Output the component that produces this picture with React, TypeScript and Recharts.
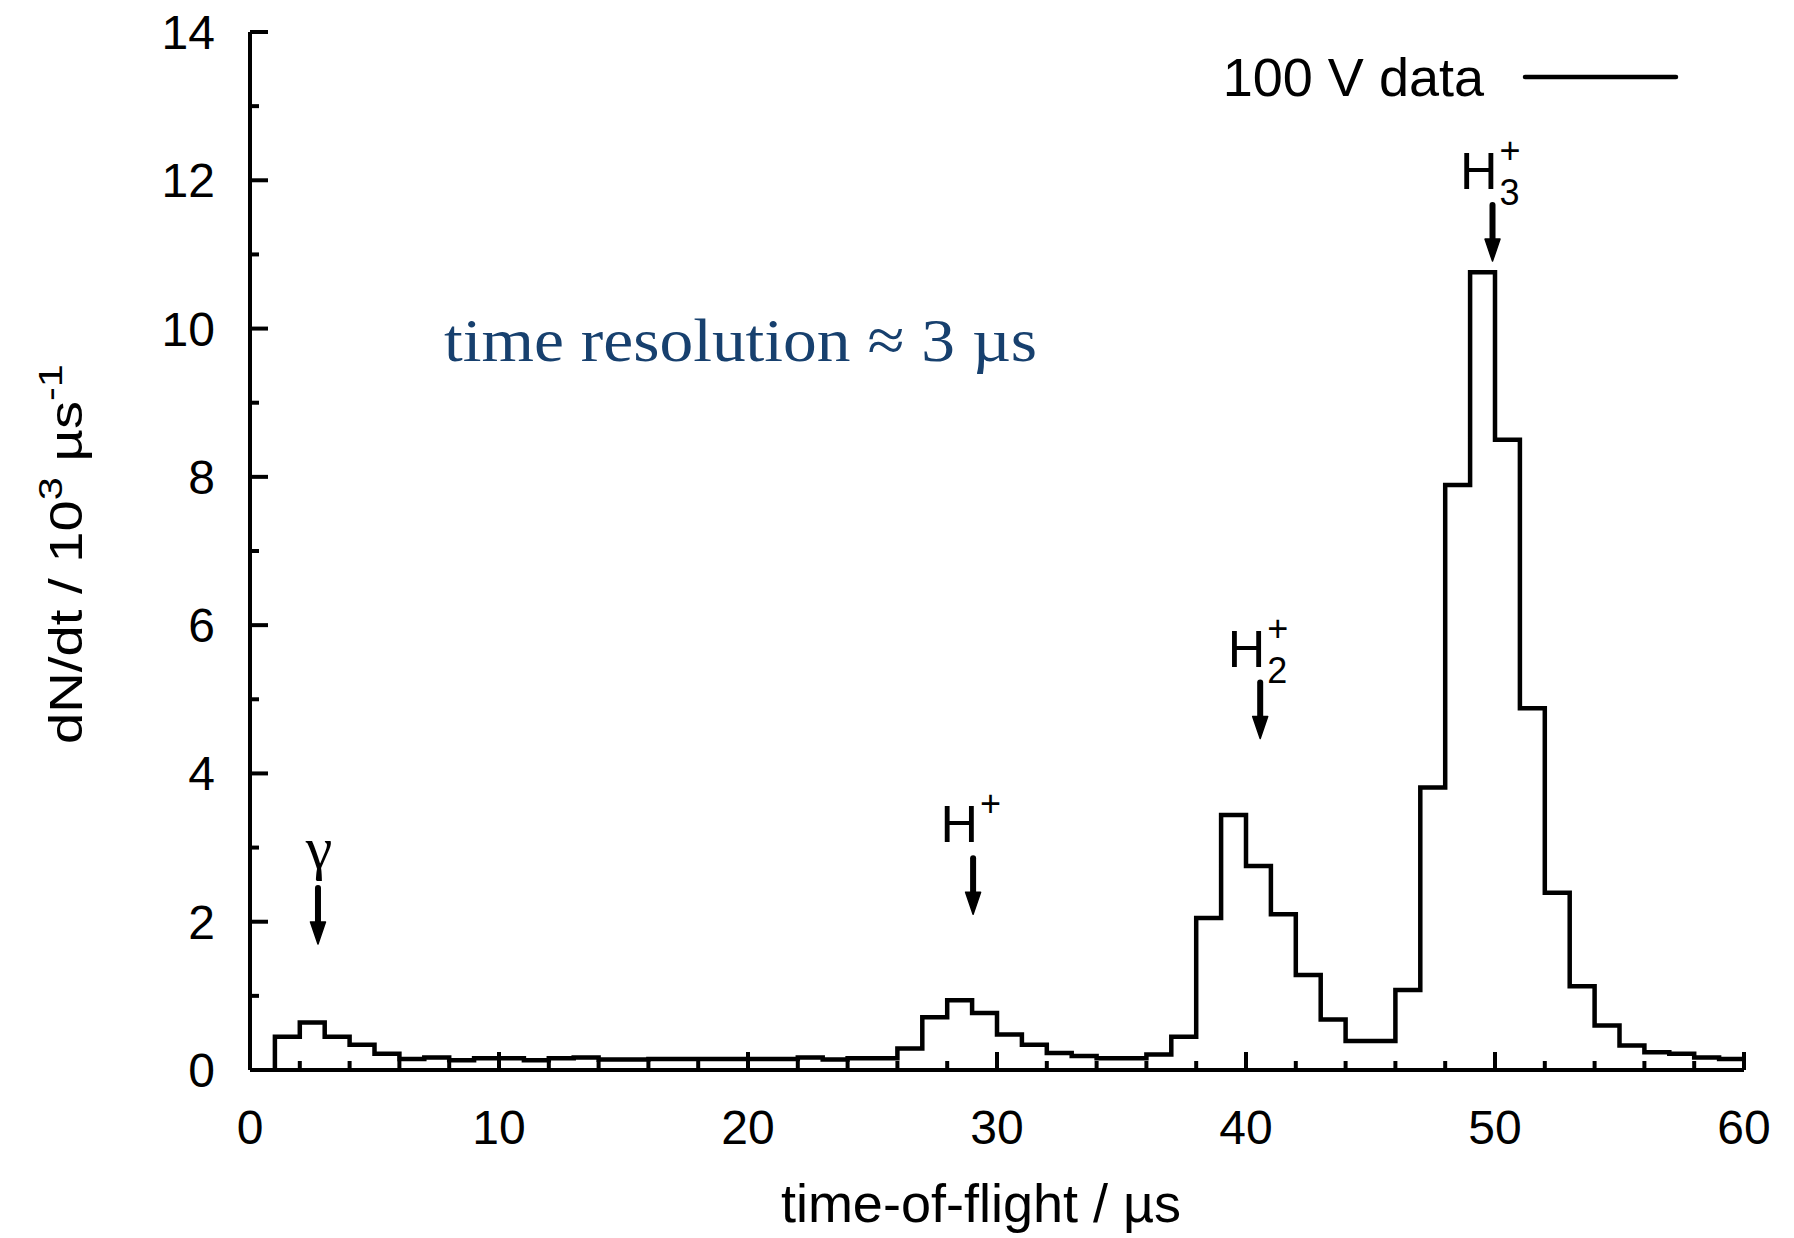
import React from 'react';
import { LineChart, Line, XAxis, YAxis, ReferenceDot } from 'recharts';

// histogram bins, 1 µs wide, left edges in µs
const binStarts = [
  1, 2, 3, 4, 5, 6, 7, 8, 9, 10,
  11, 12, 13, 14, 15, 16, 17, 18, 19, 20,
  21, 22, 23, 24, 25, 26, 27, 28, 29, 30,
  31, 32, 33, 34, 35, 36, 37, 38, 39, 40,
  41, 42, 43, 44, 45, 46, 47, 48, 49, 50,
  51, 52, 53, 54, 55, 56, 57, 58, 59,
];
const binEnd = 60;

// dN/dt in 10^3 / µs
const counts = [
  0.45, 0.64, 0.45, 0.34, 0.22, 0.15, 0.17, 0.13, 0.16, 0.16,
  0.13, 0.16, 0.17, 0.14, 0.14, 0.15, 0.15, 0.15, 0.15, 0.15,
  0.15, 0.17, 0.14, 0.16, 0.16, 0.29, 0.71, 0.94, 0.77, 0.48,
  0.34, 0.23, 0.19, 0.16, 0.16, 0.21, 0.45, 2.05, 3.44, 2.75,
  2.10, 1.28, 0.68, 0.39, 0.39, 1.08, 3.81, 7.89, 10.76, 8.50,
  4.88, 2.39, 1.13, 0.60, 0.33, 0.24, 0.22, 0.17, 0.15,
];

const xTicks = [0, 2, 4, 6, 8, 10, 12, 14, 16, 18, 20, 22, 24, 26, 28, 30, 32, 34, 36, 38, 40, 42, 44, 46, 48, 50, 52, 54, 56, 58, 60];
const xLabelTicks = [0, 10, 20, 30, 40, 50, 60];
const yTicks = [0, 1, 2, 3, 4, 5, 6, 7, 8, 9, 10, 11, 12, 13, 14];
const yLabelTicks = [0, 2, 4, 6, 8, 10, 12, 14];

// peak markers: arrow tip position in data coords
const peaks = [
  { name: 'gamma', t: 2.73, tip: 1.7, base: 'γ', sub: '', sup: '' },
  { name: 'H+', t: 29.04, tip: 2.1, base: 'H', sub: '', sup: '+' },
  { name: 'H2+', t: 40.57, tip: 4.47, base: 'H', sub: '2', sup: '+' },
  { name: 'H3+', t: 49.9, tip: 10.91, base: 'H', sub: '3', sup: '+' },
];

const data = [
  { t: binStarts[0], v: 0 },
  ...binStarts.map((t, i) => ({ t, v: counts[i] })),
  { t: binEnd, v: counts[counts.length - 1] },
];

const SANS = '"Liberation Sans", Arial, Helvetica, sans-serif';
const SERIF = '"Liberation Serif", "Times New Roman", serif';
const W = 1794;
const H = 1238;
const AXIS_W = 4;

const BottomTick = (props: any) => {
  const { x, y, payload } = props;
  const major = xLabelTicks.includes(payload.value);
  return (
    <g>
      <line x1={x} x2={x} y1={y} y2={y - (major ? 18 : 9)} stroke="#000" strokeWidth={AXIS_W} />
      {major && (
        <text x={x} y={y + 74} textAnchor="middle" fontFamily={SANS} fontSize={48} fill="#000">
          {payload.value}
        </text>
      )}
    </g>
  );
};

const TopTick = (props: any) => {
  const { x, y, payload } = props;
  const major = xLabelTicks.includes(payload.value);
  return <line x1={x} x2={x} y1={y} y2={y + (major ? 18 : 9)} stroke="#000" strokeWidth={AXIS_W} />;
};

const LeftTick = (props: any) => {
  const { x, y, payload } = props;
  const major = yLabelTicks.includes(payload.value);
  return (
    <g>
      <line x1={x} x2={x + (major ? 18 : 9)} y1={y} y2={y} stroke="#000" strokeWidth={AXIS_W} />
      {major && (
        <text x={x - 35} y={y + 17} textAnchor="end" fontFamily={SANS} fontSize={48} fill="#000">
          {payload.value}
        </text>
      )}
    </g>
  );
};

const RightTick = (props: any) => {
  const { x, y, payload } = props;
  const major = yLabelTicks.includes(payload.value);
  return <line x1={x} x2={x - (major ? 18 : 9)} y1={y} y2={y} stroke="#000" strokeWidth={AXIS_W} />;
};

const ARROW_LEN = 56;

const PeakMarker = (p: any) => (props: any) => {
  const { cx, cy } = props;
  const top = cy - ARROW_LEN;
  const baseY = top - 18;
  return (
    <g>
      <line x1={cx} x2={cx} y1={top} y2={cy - 18} stroke="#000" strokeWidth={6} strokeLinecap="round" />
      <polygon points={`${cx - 7.5},${cy - 22} ${cx + 7.5},${cy - 22} ${cx},${cy}`} fill="#000" stroke="#000" strokeWidth={1.5} strokeLinejoin="round" />
      {p.base === 'γ' ? (
        <text x={cx + 1} y={baseY - 2} textAnchor="middle" fontFamily={SERIF} fontSize={60} fill="#000">
          {p.base}
        </text>
      ) : (
        <g fontFamily={SANS} fill="#000">
          <text x={cx + 5} y={baseY + 2} textAnchor="end" fontSize={52}>{p.base}</text>
          {p.sup && <text x={cx + 7} y={baseY - 24} textAnchor="start" fontSize={36}>{p.sup}</text>}
          {p.sub && <text x={cx + 7} y={baseY + 18} textAnchor="start" fontSize={36}>{p.sub}</text>}
        </g>
      )}
    </g>
  );
};

export default function App() {
  return (
    <div style={{ position: 'absolute', left: 0, top: 0, width: W, height: H, background: '#fff' }}>
      <LineChart
        width={W}
        height={H}
        data={data}
        margin={{ top: 32, right: 50, left: 0, bottom: 0 }}
      >
        <XAxis
          xAxisId="b"
          dataKey="t"
          type="number"
          domain={[0, 60]}
          ticks={xTicks}
          interval={0}
          height={168}
          tickSize={0}
          tickMargin={0}
          tickLine={false}
          axisLine={{ stroke: '#000', strokeWidth: AXIS_W }}
          tick={<BottomTick />}
        />
        <XAxis
          xAxisId="t"
          orientation="top"
          type="number"
          domain={[0, 60]}
          ticks={xTicks}
          interval={0}
          height={0}
          tickSize={0}
          tickMargin={0}
          tickLine={false}
          axisLine={{ stroke: '#000', strokeWidth: AXIS_W }}
          tick={<TopTick />}
        />
        <YAxis
          yAxisId="l"
          type="number"
          domain={[0, 14]}
          ticks={yTicks}
          interval={0}
          width={250}
          tickSize={0}
          tickMargin={0}
          tickLine={false}
          axisLine={{ stroke: '#000', strokeWidth: AXIS_W }}
          tick={<LeftTick />}
        />
        <YAxis
          yAxisId="r"
          orientation="right"
          type="number"
          domain={[0, 14]}
          ticks={yTicks}
          interval={0}
          width={0}
          tickSize={0}
          tickMargin={0}
          tickLine={false}
          axisLine={{ stroke: '#000', strokeWidth: AXIS_W }}
          tick={<RightTick />}
        />
        <Line
          xAxisId="b"
          yAxisId="l"
          type="stepAfter"
          dataKey="v"
          stroke="#000"
          strokeWidth={4.5}
          dot={false}
          activeDot={false}
          isAnimationActive={false}
        />
        {peaks.map((p) => (
          <ReferenceDot
            key={p.name}
            xAxisId="b"
            yAxisId="l"
            x={p.t}
            y={p.tip}
            shape={PeakMarker(p)}
          />
        ))}
      </LineChart>

      <svg
        width={W}
        height={H}
        style={{ position: 'absolute', left: 0, top: 0, pointerEvents: 'none' }}
      >
        {/* legend */}
        <text x={1484} y={96} textAnchor="end" fontFamily={SANS} fontSize={54} fill="#000">
          100 V data
        </text>
        <line x1={1525} x2={1676} y1={77} y2={77} stroke="#000" strokeWidth={4.5} strokeLinecap="round" />

        {/* note */}
        <text
          x={444}
          y={361}
          fontFamily={SERIF}
          fontSize={62}
          fill="#17406e"
          textLength={593}
          lengthAdjust="spacingAndGlyphs"
        >
          time resolution ≈ 3 µs
        </text>

        {/* axis titles */}
        <text x={981} y={1222} textAnchor="middle" fontFamily={SANS} fontSize={54} fill="#000">
          time-of-flight / µs
        </text>
        <text
          transform="translate(82, 554) rotate(-90)"
          textAnchor="middle"
          fontFamily={SANS}
          fontSize={46}
          fill="#000"
          textLength={380}
          lengthAdjust="spacingAndGlyphs"
        >
          dN/dt / 10
          <tspan dy={-20} fontSize={34}>3</tspan>
          <tspan dy={20}> µs</tspan>
          <tspan dy={-20} fontSize={34}>-1</tspan>
        </text>
      </svg>
    </div>
  );
}
